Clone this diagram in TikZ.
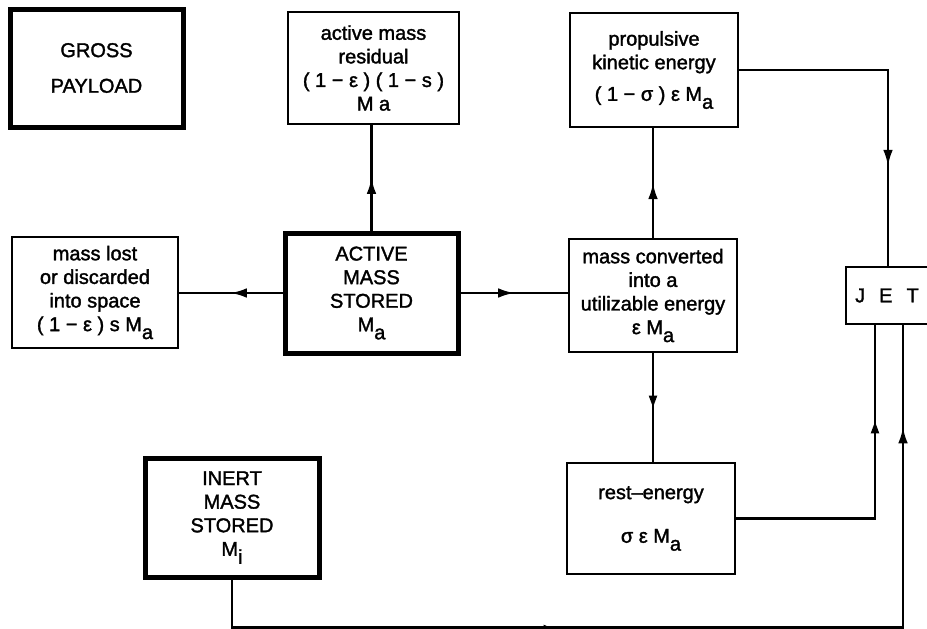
\documentclass[tikz,border=0pt]{standalone}
\usepackage{fontspec}
\setmainfont{Liberation Sans}[BoldFont=Liberation Sans, BoldFeatures={FakeBold=1.6}]
\usetikzlibrary{arrows.meta,calc,decorations.markings}

% lowered index letter, as in the hand lettering
\newcommand{\lowsub}[1]{\raisebox{-0.75ex}{#1}}

\begin{document}
\begin{tikzpicture}[x=0.5pt, y=-0.5pt, every node/.style={font=\fontsize{10}{11.8}\selectfont\bfseries},
  thinbox/.style={draw, line width=1.1pt, align=center, inner sep=0pt},
  thickbox/.style={draw, line width=2.5pt, align=center, inner sep=0pt},
  flow/.style={line width=1.1pt},
  midfull/.style={postaction={decorate}, decoration={markings, mark=at position #1 with {\arrow{Latex[length=8pt,width=4.8pt]}}}},
  midopen/.style={postaction={decorate}, decoration={markings, mark=at position #1 with {\arrow{Triangle[open,length=6pt,width=4pt]}}}}]

\clip (0,0) rectangle (927,628);

% Top row
\node[thickbox, minimum width=86.5pt, minimum height=59pt] (payload) at (96.5,68) {GROSS\\[6pt]PAYLOAD};
\node[thinbox, minimum width=85.5pt, minimum height=56pt] (residual) at (373.5,68) {active mass\\residual\\( 1 − ε ) ( 1 − s )\\M a};
\node[thinbox, minimum width=84pt, minimum height=57pt] (propulsive) at (654,70) {propulsive\\kinetic energy\\[4pt]( 1 − σ ) ε M\lowsub{a}};

% Middle row
\node[thinbox, minimum width=83pt, minimum height=55.5pt] (lost) at (95,292.5) {mass lost\\or discarded\\into space\\( 1 − ε ) s M\lowsub{a}};
\node[thickbox, minimum width=86.5pt, minimum height=60pt] (active) at (371.5,293) {ACTIVE\\MASS\\STORED\\M\lowsub{a}};
\node[thinbox, minimum width=84pt, minimum height=56.5pt] (converted) at (653,295.5) {mass converted\\into a\\utilizable energy\\ε M\lowsub{a}};
\node[thinbox, minimum width=46pt, minimum height=28.5pt] (jet) at (892,295.5) {J\hspace{0.7em}E\hspace{0.7em}T\hspace*{5pt}};

% Bottom row
\node[thickbox, minimum width=87pt, minimum height=59.5pt] (inert) at (232,517.5) {INERT\\MASS\\STORED\\M\lowsub{i}};
\node[thinbox, minimum width=84pt, minimum height=55.5pt] (rest) at (651,518.5) {rest–energy\\[10pt]σ ε M\lowsub{a}};

% Flows out of the stored active mass
\draw[flow, midfull=0.5] (active.north) -- (active.north |- residual.south);
\draw[flow, midfull=0.5] (active.west) -- (active.west -| lost.east);
\draw[flow, midfull=0.5] (active.east) -- (active.east -| converted.west);

% Split of the converted energy
\draw[flow, midfull=0.5] (converted.north) -- (converted.north |- propulsive.south);
\draw[flow, midopen=0.5] (converted.south) -- (converted.south |- rest.north);

% Feeds into the jet
\coordinate (jettop) at ($(jet.north)+(-4,0)$);
\coordinate (jetrest) at ($(jet.south)+(-17,0)$);
\coordinate (jetinert) at ($(jet.south)+(11,0)$);
\coordinate (lowrun) at ($(inert.south)+(0,48)$);
\draw[flow, midfull=0.71] (propulsive.east) -| (jettop);
\draw[flow, midopen=0.71] (rest.east) -| (jetrest);
\draw[flow, postaction={decorate}, decoration={markings,
    mark=at position 0.36 with {\arrow{Latex[length=4pt,width=3pt]}},
    mark=at position 0.90 with {\arrow{Latex[length=8pt,width=4.8pt]}}}]
  (inert.south) -- (lowrun) -| (jetinert);

\end{tikzpicture}
\end{document}
